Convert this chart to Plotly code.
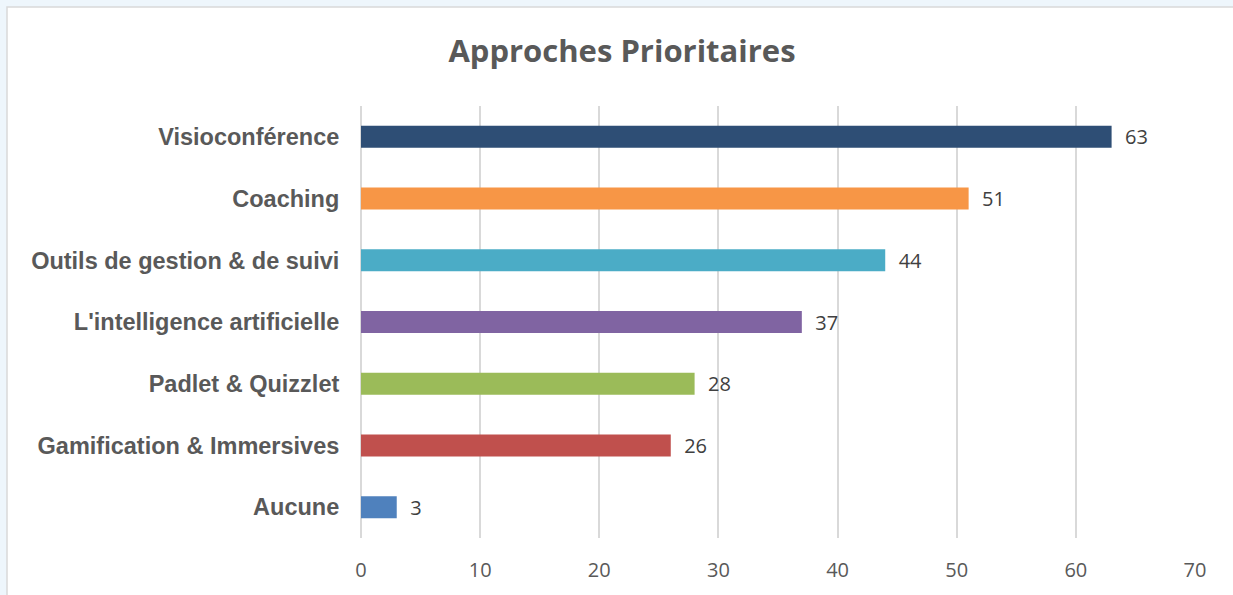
import plotly.graph_objects as go

categories = ["Aucune", "Gamification & Immersives", "Padlet & Quizzlet",
              "L'intelligence artificielle", "Outils de gestion & de suivi",
              "Coaching", "Visioconférence"]
values = [3, 26, 28, 37, 44, 51, 63]
colors = ["#4F81BD", "#C0504D", "#9BBB59", "#8064A2", "#4BACC6", "#F79646", "#2E4E75"]
tick_vals = [0, 10, 20, 30, 40, 50, 60, 70]

W, H = 1233, 595
ml, mr, mt, mb = 361, 38, 106, 57
pw, ph = W - ml - mr, H - mt - mb

fig = go.Figure(go.Bar(
    y=categories, x=values, orientation="h",
    marker=dict(color=colors, line=dict(width=0)),
    width=0.356,
    text=["\u00a0\u00a0" + str(v) for v in values], textposition="outside",
    constraintext="none",
    textfont=dict(family="Open Sans", size=20, color="#404040"),
    cliponaxis=False,
))

# outer frame: light blue page, white chart area with grey border
fig.add_shape(type="rect", xref="paper", yref="paper", layer="below",
              x0=(7 - ml) / pw, x1=(W + 5 - ml) / pw,
              y0=-(mb + 5) / ph, y1=(H - 7 - mb) / ph,
              fillcolor="white", line=dict(color="#D9D9D9", width=1.5))

fig.update_layout(
    width=W, height=H,
    margin=dict(l=ml, r=mr, t=mt, b=mb),
    paper_bgcolor="#EEF6FC", plot_bgcolor="rgba(0,0,0,0)",
    title=dict(text="<b>Approches Prioritaires</b>", x=622 / W, xanchor="center",
               y=1 - 51 / H, yanchor="middle",
               font=dict(family="Open Sans", size=31, color="#595959")),
    showlegend=False,
    xaxis=dict(range=[0, 70], tickvals=tick_vals, showgrid=True,
               gridcolor="#D9D9D9", gridwidth=1.5, zeroline=True,
               zerolinecolor="#D9D9D9", zerolinewidth=1.5,
               tickfont=dict(family="Open Sans", size=20, color="#595959"),
               ticks="outside", ticklen=14, tickcolor="rgba(0,0,0,0)", showline=False),
    yaxis=dict(tickfont=dict(family="Liberation Sans", size=23.5, color="#595959"),
               ticks="outside", ticklen=16, tickcolor="rgba(0,0,0,0)",
               showgrid=False, categoryorder="array", categoryarray=categories,
               tickprefix="<b>", ticksuffix="</b>"),
)

fig.write_html("out.html", config={"displayModeBar": False},
               post_script="document.body.style.margin='0';document.body.style.overflow='hidden';")
